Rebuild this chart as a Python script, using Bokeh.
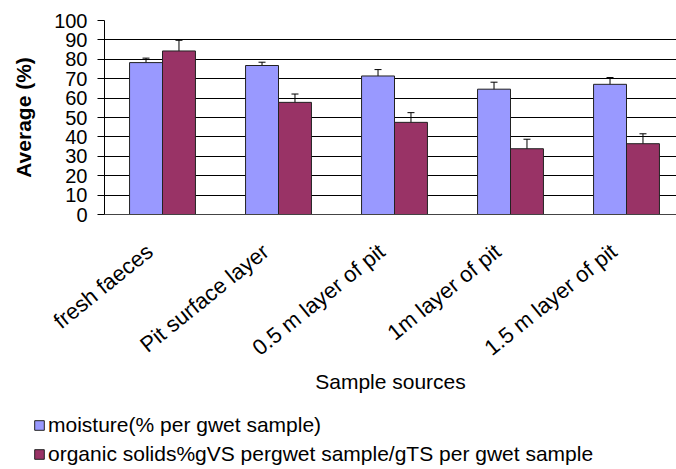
from bokeh.plotting import figure
from bokeh.layouts import column
from bokeh.models import (ColumnDataSource, FixedTicker, Legend, LegendItem,
                          Whisker, TeeHead)
from bokeh.embed import file_html
from bokeh.resources import INLINE

categories = ["fresh faeces", "Pit surface layer", "0.5 m layer of pit",
              "1m layer of pit", "1.5 m layer of pit"]
moisture = [78.3, 76.8, 71.4, 64.6, 67.1]
moisture_err = [2.3, 1.7, 3.3, 3.6, 3.5]
organic = [84.3, 57.8, 47.5, 33.9, 36.5]
organic_err = [5.5, 4.3, 5.0, 4.9, 5.1]
y_ticks = [0, 10, 20, 30, 40, 50, 60, 70, 80, 90, 100]
series_names = ["moisture(% per gwet sample)",
                "organic solids%gVS pergwet sample/gTS per gwet sample"]

FONT = "Liberation Sans"
BAR_W = 0.284
LABEL_SHIFT = 0.11
centers = [i + 0.5 for i in range(len(categories))]
label_pos = [c - LABEL_SHIFT for c in centers]

src_m = ColumnDataSource(dict(
    x=[c - BAR_W / 2 for c in centers], top=moisture,
    upper=[v + e for v, e in zip(moisture, moisture_err)],
    lower=[v - e for v, e in zip(moisture, moisture_err)]))
src_o = ColumnDataSource(dict(
    x=[c + BAR_W / 2 for c in centers], top=organic,
    upper=[v + e for v, e in zip(organic, organic_err)],
    lower=[v - e for v, e in zip(organic, organic_err)]))

p = figure(frame_width=572, frame_height=194, x_range=(0, 572 / 116),
           y_range=(0, 100), output_backend="svg", toolbar_location=None,
           min_border_left=104, min_border_right=0, min_border_top=20,
           min_border_bottom=0)
p.outline_line_color = None
p.frame_align = False

bar_style = dict(line_color="#222222", line_width=1)
r_m = p.vbar(x="x", top="top", width=BAR_W, source=src_m,
             fill_color="#9999FF", **bar_style)
r_o = p.vbar(x="x", top="top", width=BAR_W, source=src_o,
             fill_color="#993366", **bar_style)

for src in (src_m, src_o):
    w = Whisker(source=src, base="x", upper="upper", lower="lower",
                line_color="black", line_width=1,
                upper_head=TeeHead(size=7, line_color="black", line_width=1),
                lower_head=TeeHead(size=7, line_color="black", line_width=1))
    p.add_layout(w)

# grid
p.xgrid.grid_line_color = None
p.ygrid.grid_line_color = "black"
p.ygrid.grid_line_width = 1

# y axis
p.yaxis.ticker = FixedTicker(ticks=y_ticks)
p.yaxis.axis_label = "Average (%)"
p.yaxis.axis_label_text_font = FONT
p.yaxis.axis_label_text_font_size = "21px"
p.yaxis.axis_label_text_font_style = "bold"
p.yaxis.axis_label_text_color = "black"
p.yaxis.axis_label_standoff = 16
p.yaxis.major_label_text_font = FONT
p.yaxis.major_label_text_font_size = "20px"
p.yaxis.major_label_text_color = "black"
p.yaxis.major_label_standoff = 10
p.yaxis.major_tick_out = 7
p.yaxis.major_tick_in = 0
p.yaxis.minor_tick_out = 0
p.yaxis.minor_tick_in = 0
p.yaxis.axis_line_color = "black"
p.yaxis.major_tick_line_color = "black"

# x axis (ticks invisible; labels anchored slightly left of group centre)
p.xaxis.ticker = FixedTicker(ticks=label_pos)
p.xaxis.major_label_overrides = {c: lab for c, lab in zip(label_pos, categories)}
p.xaxis.major_label_orientation = 0.68
p.xaxis.major_label_text_font = FONT
p.xaxis.major_label_text_font_size = "22px"
p.xaxis.major_label_text_color = "black"
p.xaxis.major_label_standoff = 34
p.xaxis.major_tick_out = 0
p.xaxis.major_tick_in = 0
p.xaxis.minor_tick_out = 0
p.xaxis.minor_tick_in = 0
p.xaxis.axis_line_color = "#444444"
p.xaxis.axis_label = "Sample sources"
p.xaxis.axis_label_text_font = FONT
p.xaxis.axis_label_text_font_size = "21px"
p.xaxis.axis_label_text_font_style = "normal"
p.xaxis.axis_label_text_color = "black"
p.xaxis.axis_label_standoff = -3

# legend strip below the chart; its ranges keep its own bars out of view
p2 = figure(width=676, height=72, x_range=(100, 101), y_range=(200, 201),
            output_backend="svg", toolbar_location=None,
            x_axis_location=None, y_axis_location=None, min_border=0)
p2.outline_line_color = None
p2.grid.visible = False
p2.frame_align = False
l_m = p2.vbar(x="x", top="top", width=BAR_W, source=src_m,
              fill_color="#9999FF", **bar_style)
l_o = p2.vbar(x="x", top="top", width=BAR_W, source=src_o,
              fill_color="#993366", **bar_style)
legend = Legend(items=[
    LegendItem(label=series_names[0], renderers=[l_m]),
    LegendItem(label=series_names[1], renderers=[l_o]),
], location=(33, 2))
legend.label_text_font = FONT
legend.label_text_font_size = "21px"
legend.label_text_color = "black"
legend.glyph_width = 12
legend.glyph_height = 12
legend.label_standoff = 3
legend.label_height = 22
legend.spacing = 5
legend.padding = 0
legend.margin = 0
legend.border_line_color = None
legend.background_fill_alpha = 0
p2.add_layout(legend, "center")

layout = column(p, p2, spacing=0)
open("out.html", "w").write(file_html(layout, INLINE))
